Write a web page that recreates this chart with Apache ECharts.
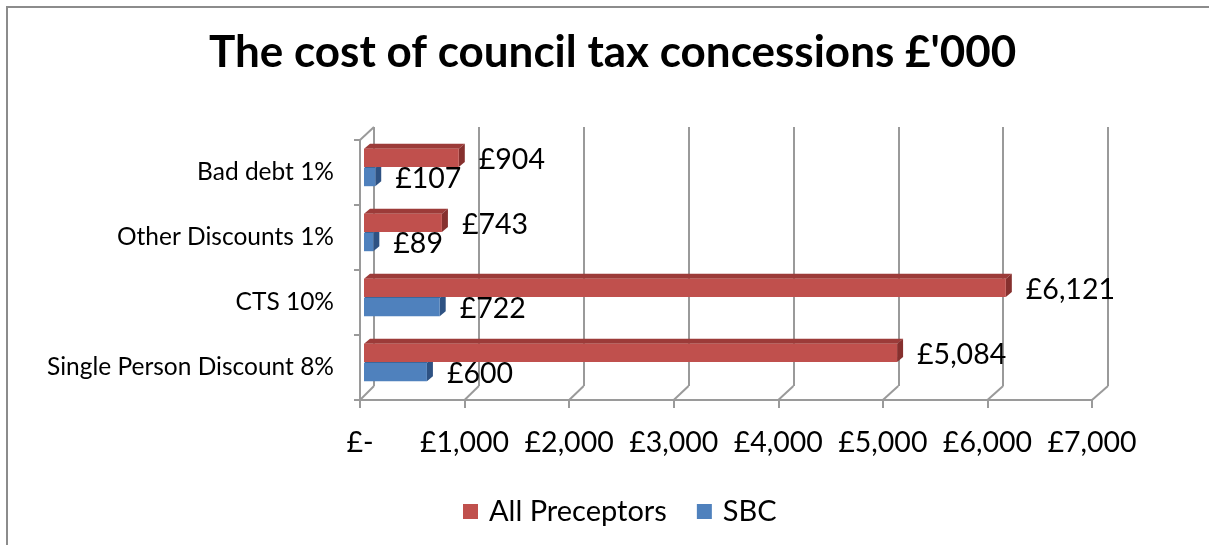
<!DOCTYPE html>
<html>
<head>
<meta charset="utf-8">
<title>The cost of council tax concessions</title>
<script src="https://cdn.jsdelivr.net/npm/echarts@6/dist/echarts.min.js"></script>
<style>
  html, body { margin: 0; padding: 0; background: #fff; }
  #chart { width: 1209px; height: 545px; }
</style>
</head>
<body>
<div id="chart"></div>
<script>
// Concession categories, listed bottom to top
const categories = ['Single Person Discount 8%', 'CTS 10%', 'Other Discounts 1%', 'Bad debt 1%'];
// Cost in £'000
const allPreceptors = [5084, 6121, 743, 904];
const sbc = [600, 722, 89, 107];
// Value axis ticks and their labels
const tickValues = [0, 1000, 2000, 3000, 4000, 5000, 6000, 7000];
const tickLabels = ['£-', '£1,000', '£2,000', '£3,000', '£4,000', '£5,000', '£6,000', '£7,000'];

const FONT = 'Lato';
const GRID_COLOR = '#9a9a9a';
const AXIS_MAX = 7000;

// Pseudo-3D box: back wall, front plane, and the plane the bars sit on
const back = { left: 374, top: 127, width: 734, height: 259 };
const front = { left: 360, top: 140, width: 732, height: 260 };
const mid = { left: 364, top: 135, width: 734, height: 260 };

const money = v => '£' + v.toLocaleString('en-GB');

function barRenderer(upper, colors) {
  return function (params, api) {
    const v = api.value(0);
    const c = api.value(1);
    const p0 = api.coord([0, c]);
    const p1 = api.coord([v, c]);
    const band = api.size([0, 1])[1];
    const h = band * 0.28;
    const dx = 6, dy = 5;
    const x0 = p0[0], x1 = p1[0];
    const yTop = upper ? p0[1] - h - 0.5 : p0[1] + 0.5;
    return {
      type: 'group',
      children: [
        { type: 'polygon', shape: { points: [[x0, yTop], [x1, yTop], [x1 + dx, yTop - dy], [x0 + dx, yTop - dy]] },
          style: { fill: colors.top } },
        { type: 'polygon', shape: { points: [[x1, yTop], [x1 + dx, yTop - dy], [x1 + dx, yTop + h - dy], [x1, yTop + h]] },
          style: { fill: colors.side } },
        { type: 'rect', shape: { x: x0, y: yTop, width: x1 - x0, height: h },
          style: { fill: colors.front } },
        { type: 'text', style: { text: money(v), x: x1 + 20, y: yTop + h / 2 + 2,
          fill: '#000', fontSize: 28.5, fontFamily: FONT, verticalAlign: 'middle', align: 'left' } }
      ]
    };
  };
}

// Floor edges joining the front axis ticks to the back wall
function floorRenderer(params, api) {
  const v = api.value(0);
  const fx = front.left + v / AXIS_MAX * front.width;
  const bx = back.left + v / AXIS_MAX * back.width;
  const fy = front.top + front.height;
  const by = back.top + back.height;
  const lineStyle = { stroke: GRID_COLOR, lineWidth: 2 };
  const children = [{ type: 'line', shape: { x1: fx, y1: fy, x2: bx, y2: by }, style: lineStyle }];
  if (v === 0) {
    children.push({ type: 'line', shape: { x1: front.left, y1: front.top, x2: back.left, y2: back.top }, style: lineStyle });
  }
  return { type: 'group', children };
}

const chart = echarts.init(document.getElementById('chart'), null, { renderer: 'canvas' });

chart.setOption({
  backgroundColor: '#fff',
  animation: false,
  textStyle: { fontFamily: FONT, color: '#000' },
  title: {
    text: "The cost of council tax concessions £'000",
    left: 204,
    top: 26,
    textStyle: { fontFamily: FONT, fontWeight: 'bold', fontSize: 44, color: '#000' }
  },
  legend: {
    data: ['All Preceptors', 'SBC'],
    top: 492,
    left: 458,
    icon: 'rect',
    itemWidth: 15,
    itemHeight: 15,
    itemGap: 30,
    textStyle: { fontFamily: FONT, fontSize: 29, color: '#000', padding: [0, 0, 0, 6] }
  },
  graphic: [{
    type: 'rect',
    shape: { x: 7, y: 7, width: 1220, height: 560 },
    style: { fill: 'none', stroke: '#8c8c8c', lineWidth: 2 },
    silent: true
  }],
  grid: [
    { left: back.left, top: back.top, width: back.width, height: back.height },
    { left: front.left, top: front.top, width: front.width, height: front.height },
    { left: mid.left, top: mid.top, width: mid.width, height: mid.height }
  ],
  xAxis: [
    { gridIndex: 0, type: 'value', min: 0, max: AXIS_MAX, interval: 1000,
      axisLine: { show: false }, axisTick: { show: false }, axisLabel: { show: false },
      splitLine: { show: true, lineStyle: { color: GRID_COLOR, width: 2 } } },
    { gridIndex: 1, type: 'value', min: 0, max: AXIS_MAX, interval: 1000,
      axisLine: { show: true, lineStyle: { color: GRID_COLOR, width: 2 } },
      axisTick: { show: true, length: 8, lineStyle: { color: GRID_COLOR, width: 2 } },
      axisLabel: { show: true, margin: 28, fontSize: 28.5, fontFamily: FONT, color: '#000',
        formatter: v => tickLabels[tickValues.indexOf(v)] },
      splitLine: { show: false } },
    { gridIndex: 2, type: 'value', min: 0, max: AXIS_MAX, show: false, splitLine: { show: false } }
  ],
  yAxis: [
    { gridIndex: 0, type: 'category', data: categories, show: false },
    { gridIndex: 1, type: 'category', data: categories,
      axisLine: { show: true, lineStyle: { color: GRID_COLOR, width: 2 } },
      axisTick: { show: true, length: 6, lineStyle: { color: GRID_COLOR, width: 2 } },
      axisLabel: { margin: 26, fontSize: 24.5, fontFamily: FONT, color: '#000' } },
    { gridIndex: 2, type: 'category', data: categories, show: false }
  ],
  series: [
    {
      name: 'floor', type: 'custom', xAxisIndex: 1, yAxisIndex: 1, silent: true,
      data: tickValues.map(v => [v, 0]), encode: { x: 0, y: 1 },
      renderItem: floorRenderer
    },
    {
      name: 'SBC', type: 'custom', xAxisIndex: 2, yAxisIndex: 2,
      itemStyle: { color: '#4F81BD' },
      data: sbc.map((v, i) => [v, i]), encode: { x: 0, y: 1 },
      renderItem: barRenderer(false, { front: '#4F81BD', top: '#3B679C', side: '#2E5283' })
    },
    {
      name: 'All Preceptors', type: 'custom', xAxisIndex: 2, yAxisIndex: 2,
      itemStyle: { color: '#C0504D' },
      data: allPreceptors.map((v, i) => [v, i]), encode: { x: 0, y: 1 },
      renderItem: barRenderer(true, { front: '#C0504D', top: '#9C3B39', side: '#86302E' })
    }
  ]
});
</script>
</body>
</html>
